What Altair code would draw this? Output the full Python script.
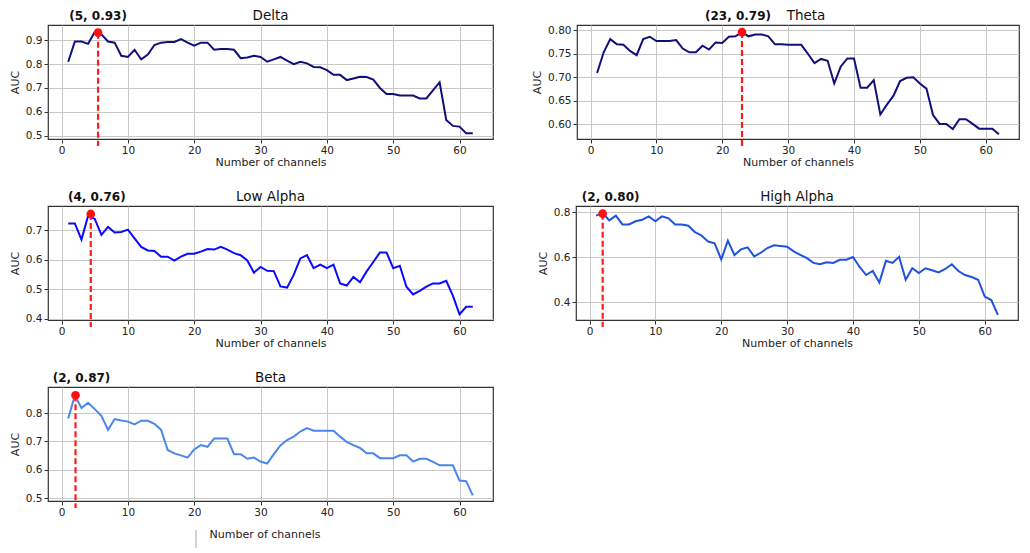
import altair as alt
import pandas as pd

channels = list(range(1, 63))

delta_auc = [0.81, 0.895, 0.895, 0.885, 0.935, 0.925, 0.895, 0.89, 0.835, 0.83,
             0.86, 0.82, 0.84, 0.88, 0.89, 0.893, 0.893, 0.905, 0.89, 0.877,
             0.89, 0.89, 0.86, 0.863, 0.863, 0.86, 0.825, 0.828, 0.835, 0.83,
             0.81, 0.82, 0.83, 0.815, 0.80, 0.81, 0.803, 0.788, 0.787, 0.775,
             0.755, 0.755, 0.733, 0.74, 0.747, 0.746, 0.735, 0.70, 0.675, 0.675,
             0.668, 0.668, 0.668, 0.656, 0.656, 0.69, 0.724, 0.566, 0.541, 0.538,
             0.51, 0.51]

theta_auc = [0.709, 0.753, 0.781, 0.77, 0.769, 0.756, 0.747, 0.781, 0.786, 0.777,
             0.777, 0.777, 0.779, 0.761, 0.753, 0.753, 0.767, 0.759, 0.774, 0.773,
             0.786, 0.787, 0.796, 0.787, 0.791, 0.791, 0.787, 0.77, 0.77, 0.769,
             0.769, 0.769, 0.75, 0.73, 0.739, 0.735, 0.687, 0.723, 0.74, 0.74,
             0.678, 0.678, 0.694, 0.621, 0.642, 0.661, 0.692, 0.699, 0.70, 0.687,
             0.676, 0.62, 0.601, 0.601, 0.59, 0.611, 0.611, 0.601, 0.591, 0.591,
             0.591, 0.579]

low_alpha_auc = [0.723, 0.723, 0.668, 0.749, 0.738, 0.684, 0.711, 0.692, 0.694, 0.702,
                 0.672, 0.643, 0.631, 0.629, 0.61, 0.61, 0.597, 0.61, 0.62, 0.62,
                 0.627, 0.636, 0.634, 0.643, 0.634, 0.622, 0.615, 0.597, 0.556, 0.575,
                 0.562, 0.561, 0.509, 0.505, 0.548, 0.604, 0.615, 0.571, 0.583, 0.571,
                 0.583, 0.519, 0.512, 0.541, 0.523, 0.56, 0.592, 0.624, 0.624, 0.571,
                 0.579, 0.508, 0.482, 0.494, 0.508, 0.519, 0.519, 0.528, 0.478, 0.414,
                 0.44, 0.44]

high_alpha_auc = [0.785, 0.797, 0.764, 0.785, 0.746, 0.746, 0.76, 0.767, 0.782, 0.76,
                  0.782, 0.773, 0.746, 0.746, 0.74, 0.712, 0.697, 0.67, 0.662, 0.59,
                  0.674, 0.61, 0.635, 0.644, 0.604, 0.62, 0.641, 0.653, 0.65, 0.647,
                  0.626, 0.611, 0.596, 0.575, 0.569, 0.578, 0.575, 0.589, 0.589, 0.601,
                  0.557, 0.521, 0.539, 0.488, 0.584, 0.575, 0.602, 0.50, 0.551, 0.53,
                  0.551, 0.542, 0.533, 0.548, 0.569, 0.539, 0.521, 0.512, 0.50, 0.425,
                  0.41, 0.344]

beta_auc = [0.781, 0.862, 0.818, 0.836, 0.814, 0.79, 0.741, 0.779, 0.774, 0.77,
            0.76, 0.773, 0.773, 0.762, 0.741, 0.67, 0.658, 0.651, 0.643, 0.672,
            0.687, 0.681, 0.71, 0.71, 0.71, 0.655, 0.655, 0.639, 0.643, 0.629,
            0.622, 0.655, 0.686, 0.705, 0.717, 0.735, 0.747, 0.738, 0.738, 0.738,
            0.738, 0.717, 0.698, 0.687, 0.677, 0.658, 0.658, 0.641, 0.641, 0.641,
            0.651, 0.651, 0.629, 0.639, 0.639, 0.628, 0.616, 0.616, 0.616, 0.562,
            0.56, 0.51]

band_names = ["Delta", "Theta", "Low Alpha", "High Alpha", "Beta"]
peak_x = [5.5, 23, 4.4, 2, 2.1]
peak_y = [0.932, 0.796, 0.755, 0.794, 0.863]
peak_labels = ["(5, 0.93)", "(23, 0.79)", "(4, 0.76)", "(2, 0.80)", "(2, 0.87)"]
line_colors = ["#10107a", "#10107a", "#0a0aff", "#1f52e0", "#4a87e8"]
y_ticks = [[0.5, 0.6, 0.7, 0.8, 0.9],
           [0.60, 0.65, 0.70, 0.75, 0.80],
           [0.4, 0.5, 0.6, 0.7],
           [0.4, 0.6, 0.8],
           [0.5, 0.6, 0.7, 0.8]]
y_formats = [".1f", ".2f", ".1f", ".1f", ".1f"]
y_domains = [[0.486, 0.964], [0.569, 0.811], [0.395, 0.782], [0.321, 0.828], [0.490, 0.892]]
x_ticks = [0, 10, 20, 30, 40, 50, 60]
x_domain = [-2.05, 65.05]

FONT = "DejaVu Sans"
W_LEFT, W_RIGHT, H = 445, 442, 114
TITLE_DX = [0, 8, 0, 0, 0]
LABEL_DX = [0, -4, 6, 8, 6]


def panel(i, values, width, xtitle_pad=1, xtitle_shift=0, stray_tick=False):
    df = pd.DataFrame({"channels": channels, "auc": values})
    pk = pd.DataFrame({"x": [peak_x[i]], "y": [peak_y[i]], "label": [peak_labels[i]]})
    tt = pd.DataFrame({"title": [band_names[i]]})
    xs = alt.Scale(domain=x_domain, nice=False, zero=False)
    ys = alt.Scale(domain=y_domains[i], nice=False, zero=False)
    xax = alt.Axis(values=x_ticks, title="Number of channels", titlePadding=xtitle_pad,
                   grid=True, labelOverlap=False, titleX=width / 2 + xtitle_shift)
    yax = alt.Axis(values=y_ticks[i], format=y_formats[i], title="AUC", grid=True,
                   labelOverlap=False)
    X = lambda f: alt.X(f, scale=xs, axis=xax, title="Number of channels")
    Y = lambda f: alt.Y(f, scale=ys, axis=yax, title="AUC")
    line = alt.Chart(df).mark_line(color=line_colors[i], strokeWidth=2).encode(
        x=X("channels:Q"), y=Y("auc:Q"),
    )
    rule = alt.Chart(pk).mark_rule(color="#ff1a1a", strokeWidth=2.2, strokeDash=[6, 3]).encode(
        x=X("x:Q"), y=Y("y:Q"), y2=alt.value(H + 7)
    )
    dot = alt.Chart(pk).mark_point(filled=True, color="#ff1010", size=75, opacity=1,
                                   shape="circle").encode(x=X("x:Q"), y=Y("y:Q"))
    lab = alt.Chart(pk).mark_text(font=FONT, fontSize=12, fontWeight="bold", color="#111",
                                  dx=LABEL_DX[i], baseline="alphabetic").encode(
        x=X("x:Q"), y=alt.value(-5), text="label:N"
    )
    ttl = alt.Chart(tt).mark_text(font=FONT, fontSize=13.5, color="#111",
                                  baseline="alphabetic").encode(
        x=alt.value(width / 2 + TITLE_DX[i]), y=alt.value(-5), text="title:N"
    )
    layers = [line, rule, dot, lab, ttl]
    if stray_tick:
        layers.append(alt.Chart(tt).mark_rule(color="#aaaaaa", strokeWidth=1).encode(
            x=alt.value(148), y=alt.value(H + 29), y2=alt.value(H + 47)))
    return alt.layer(*layers).properties(width=width, height=H)


row1 = alt.hconcat(panel(0, delta_auc, W_LEFT), panel(1, theta_auc, W_RIGHT), spacing=37)
row2 = alt.hconcat(panel(2, low_alpha_auc, W_LEFT), panel(3, high_alpha_auc, W_RIGHT), spacing=42)
row3 = alt.hconcat(panel(4, beta_auc, W_LEFT, xtitle_pad=11, xtitle_shift=-6, stray_tick=True))

chart = alt.vconcat(row1, row2, row3, spacing=20).properties(
    padding=0, background="white"
).configure_view(
    stroke="#333333", strokeWidth=1.2
).configure_axis(
    labelFont=FONT, titleFont=FONT, labelFontSize=10.5, titleFontSize=11,
    labelColor="#222", titleColor="#222", titleFontWeight="normal",
    gridColor="#c8c8c8", gridWidth=1, domain=False,
    tickColor="#333", tickSize=4, labelPadding=2, titlePadding=5,
)

chart.save("out.html", embed_options={"renderer": "svg", "actions": False})
